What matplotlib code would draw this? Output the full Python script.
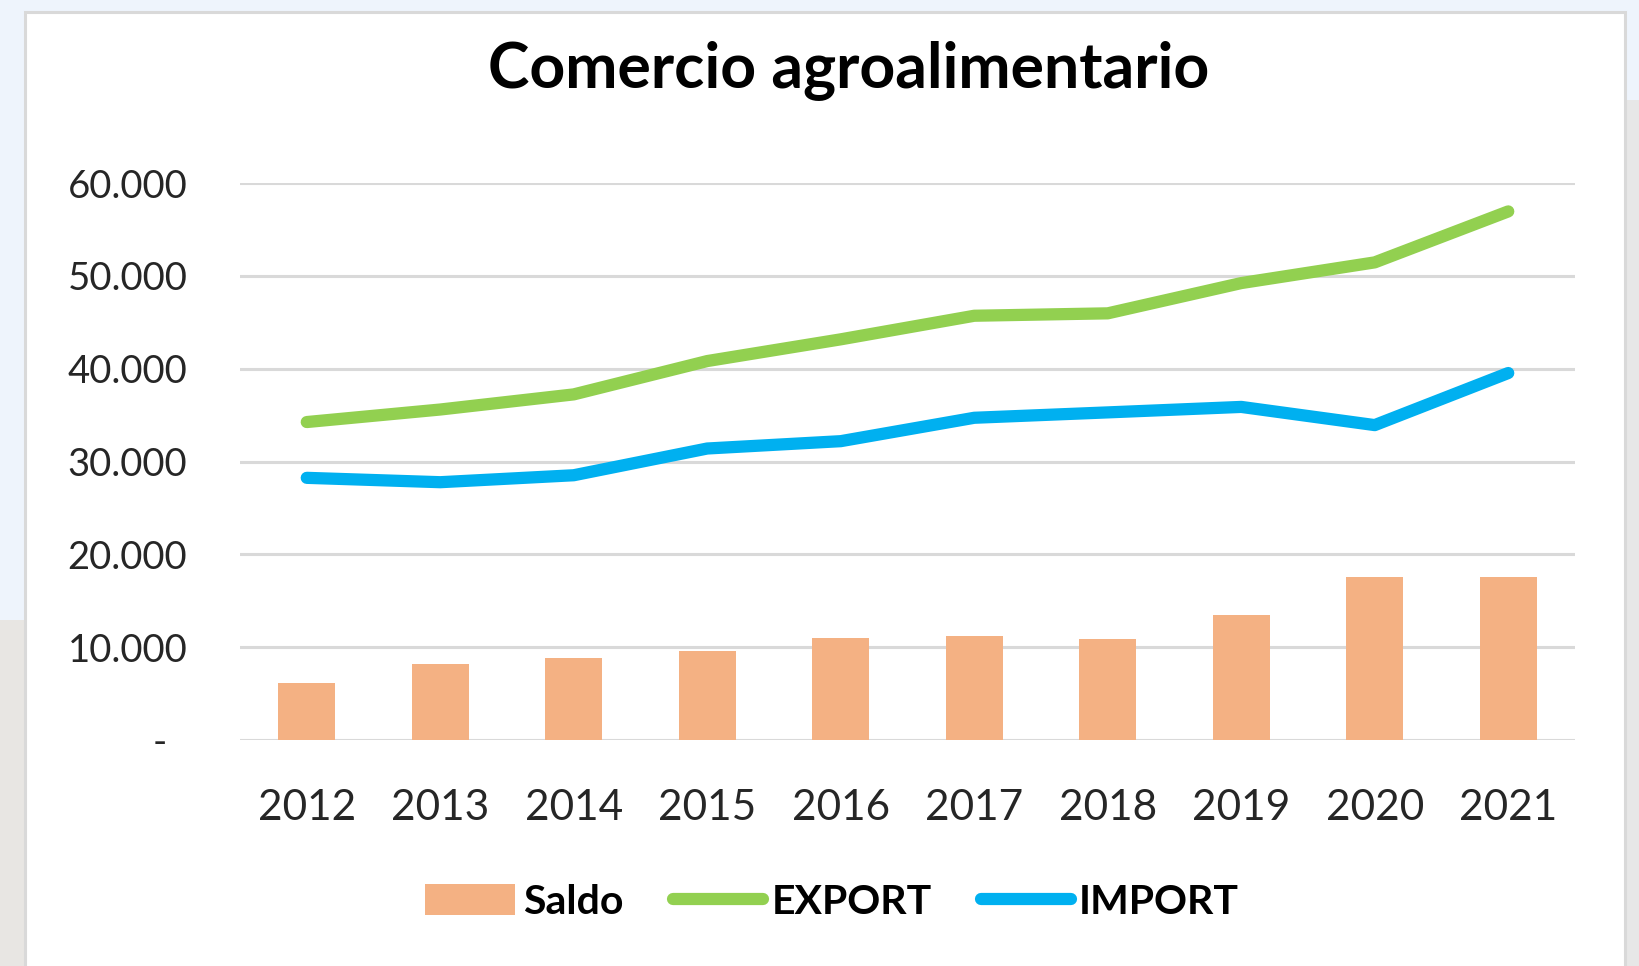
import matplotlib
matplotlib.use("Agg")
import matplotlib.pyplot as plt
from matplotlib.patches import Rectangle
from matplotlib.ticker import FuncFormatter

# ---------- datos ----------
anios = ["2012", "2013", "2014", "2015", "2016",
         "2017", "2018", "2019", "2020", "2021"]
export = [34250, 35600, 37230, 40820, 43160,
          45700, 45960, 49220, 51450, 56940]
importe = [28240, 27770, 28520, 31400, 32190,
           34710, 35290, 35880, 33920, 39530]
saldo = [6110, 8200, 8880, 9600, 10970,
         11180, 10900, 13450, 17570, 17570]
yticks = [0, 10000, 20000, 30000, 40000, 50000, 60000]

C_SALDO = "#F4B183"
C_EXPORT = "#92D050"
C_IMPORT = "#00B0F0"
C_GRID = "#D9D9D9"
C_TXT = "#262626"

plt.rcParams["font.family"] = ["Lato", "DejaVu Sans"]

W, H = 1640, 966
fig = plt.figure(figsize=(W / 100, H / 100), dpi=100)
fig.patch.set_facecolor("#EEF4FC")

# fondo fuera del panel (foto gris abajo)
fig.add_artist(Rectangle((0, 0), 25 / W, 1 - 620 / H, transform=fig.transFigure,
                         facecolor="#E8E6E3", edgecolor="none", zorder=0))
fig.add_artist(Rectangle((1625 / W, 0), 15 / W, 1 - 100 / H, transform=fig.transFigure,
                         facecolor="#E7E7E7", edgecolor="none", zorder=0))
# panel blanco del gráfico
fig.add_artist(Rectangle((25 / W, -0.05), 1600 / W, 1.05 - 12 / H,
                         transform=fig.transFigure, facecolor="white",
                         edgecolor=C_GRID, linewidth=2.2, zorder=1))

ax = fig.add_axes([240 / W, 1 - 740 / H, 1335 / W, 557 / H])
ax.set_facecolor("none")
ax.set_zorder(2)

x = list(range(len(anios)))
barras = ax.bar(x, saldo, width=0.43, color=C_SALDO, label="Saldo", zorder=3)
l_exp, = ax.plot(x, export, color=C_EXPORT, linewidth=8.8, solid_capstyle="round",
                 solid_joinstyle="round", label="EXPORT", zorder=4, clip_on=False)
l_imp, = ax.plot(x, importe, color=C_IMPORT, linewidth=8.8, solid_capstyle="round",
                 solid_joinstyle="round", label="IMPORT", zorder=4, clip_on=False)

ax.set_xlim(-0.5, len(anios) - 0.5)
ax.set_ylim(0, 60000)
ax.set_yticks(yticks)
ax.yaxis.set_major_formatter(FuncFormatter(
    lambda v, p: "-  " if v == 0 else f"{int(v):,}".replace(",", ".")))
ax.set_xticks(x)
ax.set_xticklabels(anios)
ax.grid(axis="y", color=C_GRID, linewidth=2.2, zorder=0)
for s in ax.spines.values():
    s.set_visible(False)
ax.tick_params(axis="y", length=0, pad=38, labelsize=27.5, labelcolor=C_TXT)
ax.tick_params(axis="x", length=0, pad=35, labelsize=30.5, labelcolor=C_TXT)

fig.text(849 / W, 1 - 70 / H, "Comercio agroalimentario", ha="center",
         va="center", fontsize=45, fontweight="bold", color="black")

leg = ax.legend([barras, l_exp, l_imp], ["Saldo", "EXPORT", "IMPORT"],
                loc="center", bbox_to_anchor=(832 / W, 1 - 902 / H),
                bbox_transform=fig.transFigure, ncol=3, frameon=False,
                handlelength=2.2, handleheight=0.8, handletextpad=0.2,
                columnspacing=1.2, prop={"size": 29.5, "weight": "bold"})
for t in leg.get_texts():
    t.set_color("black")

fig.savefig("out.png", dpi=100, facecolor=fig.get_facecolor())
